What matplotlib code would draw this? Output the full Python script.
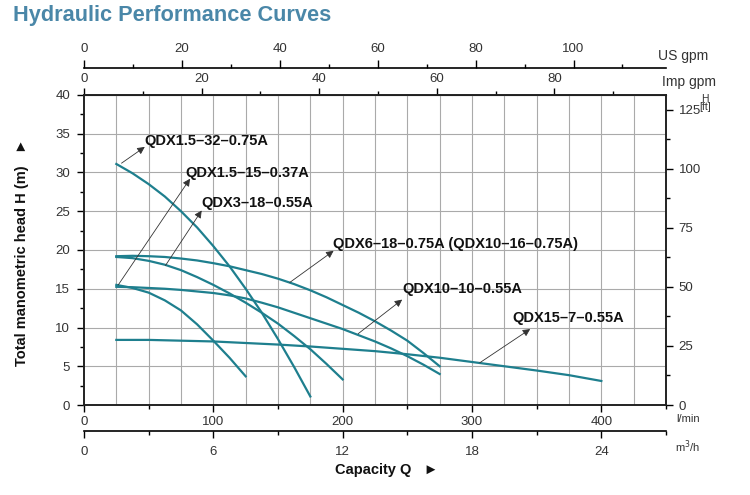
import matplotlib
matplotlib.use('Agg')
import numpy as np
import matplotlib.pyplot as plt
from matplotlib.ticker import MultipleLocator

plt.rcParams['font.family'] = ['Liberation Sans', 'DejaVu Sans']

# pump curves, Q in l/min, H in m
q_15_32 = [25, 37.5, 50, 62.5, 75, 87.5, 100, 112.5, 125, 137.5, 150, 162.5, 175]
h_15_32 = [31.1, 29.9, 28.5, 26.9, 25.0, 22.9, 20.5, 17.9, 15.0, 11.9, 8.5, 4.9, 1.1]

q_15_15 = [25, 37.5, 50, 62.5, 75, 87.5, 100, 112.5, 125]
h_15_15 = [15.5, 15.1, 14.5, 13.5, 12.2, 10.4, 8.3, 6.1, 3.7]

q_3_18 = [25, 37.5, 50, 62.5, 75, 87.5, 100, 112.5, 125, 137.5, 150, 162.5, 175, 187.5, 200]
h_3_18 = [19.1, 18.95, 18.6, 18.1, 17.4, 16.5, 15.5, 14.4, 13.2, 11.9, 10.5, 8.9, 7.2, 5.3, 3.3]

q_6_18 = [25, 37.5, 50, 62.5, 75, 87.5, 100, 112.5, 125, 137.5, 150, 162.5, 175,
          187.5, 200, 212.5, 225, 237.5, 250, 262.5, 275]
h_6_18 = [19.2, 19.25, 19.2, 19.1, 18.9, 18.65, 18.3, 17.9, 17.4, 16.9, 16.3, 15.6, 14.8,
          13.9, 12.9, 11.9, 10.8, 9.6, 8.3, 6.7, 5.0]

q_10_10 = [25, 37.5, 50, 62.5, 75, 87.5, 100, 112.5, 125, 137.5, 150, 162.5, 175,
           187.5, 200, 212.5, 225, 237.5, 250, 262.5, 275]
h_10_10 = [15.25, 15.2, 15.1, 15.0, 14.85, 14.65, 14.45, 14.15, 13.75, 13.2, 12.6, 11.9, 11.2,
           10.5, 9.8, 9.0, 8.2, 7.3, 6.3, 5.2, 4.0]

q_15_7 = [25, 50, 75, 100, 125, 150, 175, 200, 225, 250, 275, 300, 325, 350, 375, 400]
h_15_7 = [8.4, 8.4, 8.3, 8.2, 8.0, 7.8, 7.55, 7.25, 6.95, 6.55, 6.1, 5.55, 5.0, 4.45, 3.85, 3.1]

curves = [(q_15_32, h_15_32), (q_15_15, h_15_15), (q_3_18, h_3_18),
          (q_6_18, h_6_18), (q_10_10, h_10_10), (q_15_7, h_15_7)]

# label text, arrow tail (on curve), arrow tip, text position
labels = [
    ("QDX1.5\u201332\u20130.75A", (29, 31.2), (47, 33.3), (46.5, 34.1)),
    ("QDX1.5\u201315\u20130.37A", (26.5, 15.5), (82, 29.2), (78.5, 29.9)),
    ("QDX3\u201318\u20130.55A", (63, 18.0), (91, 25.1), (90.5, 26.1)),
    ("QDX6\u201318\u20130.75A (QDX10\u201316\u20130.75A)", (159, 15.8), (193, 19.9), (192.5, 20.8)),
    ("QDX10\u201310\u20130.55A", (212, 9.2), (246, 13.6), (246.5, 15.0)),
    ("QDX15\u20137\u20130.55A", (306, 5.45), (345, 9.8), (331, 11.2)),
]

line_color = '#1e7f8e'
tick_color = '#333333'

fig = plt.figure(figsize=(7.5, 4.95), dpi=100)
ax = fig.add_axes([0.112, 0.1818, 0.776, 0.6263])
ax.set_xlim(0, 450)
ax.set_ylim(0, 40)

ax.vlines(np.arange(25, 450, 25), 0, 40, color='#aaaaaa', lw=0.8, zorder=1)
ax.hlines(np.arange(5, 40, 5), 0, 450, color='#aaaaaa', lw=0.8, zorder=1)

for q, h in curves:
    ax.plot(q, h, color=line_color, lw=1.6, zorder=3, solid_joinstyle='round')

for text, tail, tip, pos in labels:
    ax.annotate('', xy=tip, xytext=tail,
                arrowprops=dict(arrowstyle='-|>', color='#333333', lw=0.6,
                                mutation_scale=11, shrinkA=0, shrinkB=0), zorder=4)
    ax.text(pos[0], pos[1], text, fontsize=10.5, fontweight='bold', color='#111111',
            ha='left', va='center', zorder=5)

for s in ax.spines.values():
    s.set_linewidth(1.2)
    s.set_color('#222222')

ax.set_xticks([0, 100, 200, 300, 400])
ax.xaxis.set_minor_locator(MultipleLocator(50))
ax.set_yticks(np.arange(0, 41, 5))
ax.yaxis.set_minor_locator(MultipleLocator(2.5))
ax.tick_params(axis='both', which='major', direction='out', length=5, width=1,
               labelsize=9.5, labelcolor=tick_color)
ax.tick_params(axis='x', which='major', pad=3)
ax.tick_params(axis='y', which='major', pad=5)
ax.tick_params(axis='both', which='minor', direction='out', length=3, width=1)

# right axis in feet
axr = ax.twinx()
axr.set_ylim(0, 40 * 3.2808)
axr.set_yticks(np.arange(0, 126, 25))
axr.yaxis.set_minor_locator(MultipleLocator(12.5))
axr.tick_params(axis='y', which='major', length=5, width=1, labelsize=9.5,
                labelcolor=tick_color, pad=4)
axr.tick_params(axis='y', which='minor', length=3, width=1)
for s in axr.spines.values():
    s.set_linewidth(1.2)
    s.set_color('#222222')

# top axes: Imp gpm and US gpm
sec_imp = ax.secondary_xaxis('top', functions=(lambda q: q / 4.546, lambda g: g * 4.546))
sec_imp.set_xticks([0, 20, 40, 60, 80])
sec_imp.xaxis.set_minor_locator(MultipleLocator(10))
sec_imp.tick_params(which='major', length=5, width=1, labelsize=9.5, labelcolor=tick_color, pad=2)
sec_imp.tick_params(which='minor', length=3, width=1)

sec_us = ax.secondary_xaxis(1 + 27 / 310, functions=(lambda q: q / 3.785, lambda g: g * 3.785))
sec_us.set_xticks([0, 20, 40, 60, 80, 100])
sec_us.xaxis.set_minor_locator(MultipleLocator(10))
sec_us.tick_params(which='major', length=6, width=1, labelsize=9.5, labelcolor=tick_color, pad=3)
sec_us.tick_params(which='minor', length=3, width=1)
sec_us.spines['top'].set_linewidth(1.2)

# bottom m3/h axis
sec_m3 = ax.secondary_xaxis(-26 / 310, functions=(lambda q: q * 0.06, lambda m: m / 0.06))
sec_m3.set_xticks([0, 6, 12, 18, 24])
sec_m3.xaxis.set_minor_locator(MultipleLocator(3))
sec_m3.tick_params(which='major', length=5, width=1, labelsize=9.5, labelcolor=tick_color, pad=6)
sec_m3.tick_params(which='minor', length=3, width=1)
sec_m3.spines['bottom'].set_linewidth(1.2)

fig.text(0.017, 0.968, 'Hydraulic Performance Curves', fontsize=15.7, fontweight='bold',
         color='#4a87a8', ha='left', va='center')
fig.text(0.878, 0.887, 'US gpm', fontsize=10, color=tick_color, ha='left', va='center')
fig.text(0.882, 0.834, 'Imp gpm', fontsize=10, color=tick_color, ha='left', va='center')
fig.text(0.94, 0.792, 'H\n[ft]', fontsize=7.5, color=tick_color, ha='center', va='center',
         linespacing=0.85)
fig.text(0.917, 0.153, 'l/min', fontsize=8, color=tick_color, ha='center', va='center')
fig.text(0.917, 0.097, 'm$^3$/h', fontsize=8, color=tick_color, ha='center', va='center')
fig.text(0.03, 0.49, 'Total manometric head H (m)   \u25ba', rotation=90, fontsize=10.5,
         fontweight='bold', color='#111111', ha='center', va='center')
fig.text(0.516, 0.05, 'Capacity Q   \u25ba', fontsize=10.5, fontweight='bold',
         color='#111111', ha='center', va='center')

fig.savefig('out.png', dpi=100)
